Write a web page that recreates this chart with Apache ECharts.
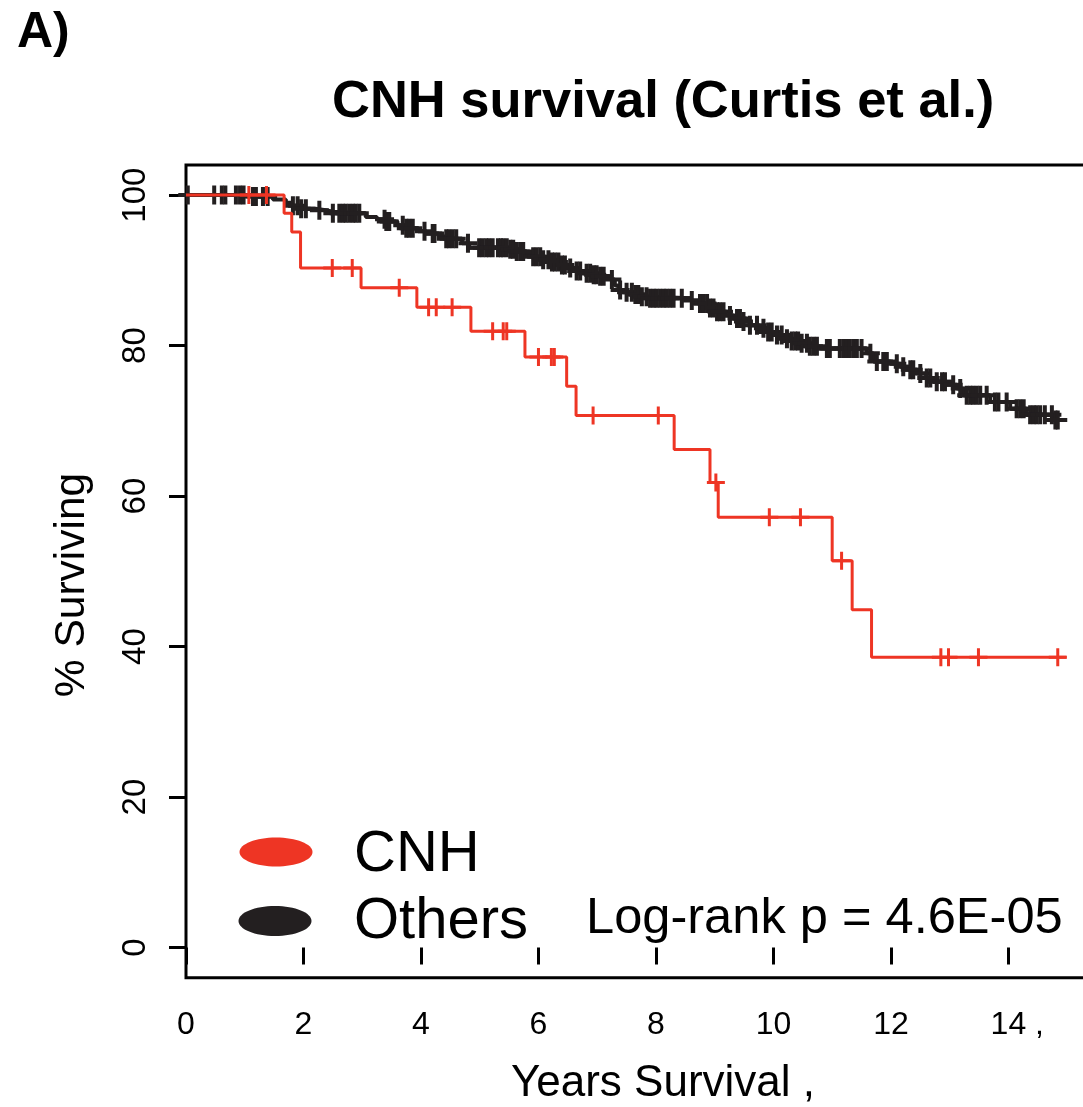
<!DOCTYPE html>
<html>
<head>
<meta charset="utf-8">
<script src="https://cdn.jsdelivr.net/npm/echarts@6/dist/echarts.min.js"></script>
<style>
html,body{margin:0;padding:0;background:#fff;}
#main{width:1083px;height:1107px;}
</style>
</head>
<body>
<div id="main"></div>
<script>
// ---- data ----
const xTickValues = [0, 2, 4, 6, 8, 10, 12, 14];
const xTickLabels = ['0', '2', '4', '6', '8', '10', '12', '  14 ,'];
const yTickValues = [0, 20, 40, 60, 80, 100];
const yTickLabels = ['0', '20', '40', '60', '80', '100'];

// Others: KM step times (years) and survival (%) after each step
const othersTimes = [0, 1.14, 1.48, 1.70, 1.80, 1.93, 2.20, 2.38, 2.50, 3.06, 3.25, 3.40, 3.60, 3.75, 3.95, 4.09, 4.30, 4.43, 4.70, 4.82,
  5.50, 5.63, 5.80, 5.91, 6.05, 6.20, 6.35, 6.48, 6.62, 6.76, 6.90, 7.05, 7.22, 7.30, 7.36, 7.50, 7.61, 7.75, 7.90, 8.60,
  8.75, 8.90, 9.03, 9.18, 9.32, 9.46, 9.60, 9.75, 9.89, 10.03, 10.17, 10.30, 10.45, 10.60, 10.75, 11.59, 11.70, 11.99, 12.16, 12.30,
  12.44, 12.60, 12.72, 12.95, 13.12, 13.23, 13.69, 14.03, 14.31, 14.77, 14.99];
const othersSurv = [100, 99.8, 99.4, 99.0, 98.6, 98.2, 98.0, 97.8, 97.6, 97.1, 96.8, 96.5, 96.0, 95.6, 95.2, 94.9, 94.5, 94.2, 93.6, 93.0,
  92.8, 92.5, 92.1, 91.8, 91.4, 91.1, 90.7, 90.3, 89.9, 89.6, 89.4, 89.2, 88.8, 88.0, 87.4, 87.1, 86.8, 86.5, 86.3, 86.0,
  85.6, 85.0, 84.5, 84.0, 83.6, 83.2, 82.7, 82.3, 81.8, 81.4, 80.9, 80.6, 80.3, 79.9, 79.6, 79.0, 77.9, 77.6, 77.2, 76.8,
  76.3, 75.7, 75.2, 74.8, 74.3, 73.4, 72.5, 71.6, 70.8, 70.1, 70.1];
// Others: censoring times (years)
const othersCensor = [0.03, 0.48, 0.61, 0.67, 0.85, 0.92, 0.98, 1.14, 1.19, 1.31, 1.39, 1.82, 1.90, 1.96, 2.04, 2.27, 2.50, 2.61, 2.67, 2.72,
  2.78, 2.84, 2.89, 2.95, 3.38, 3.41, 3.46, 3.69, 3.75, 3.80, 3.86, 4.06, 4.20, 4.23, 4.43, 4.48, 4.54, 4.60, 4.80, 4.99,
  5.05, 5.11, 5.16, 5.22, 5.31, 5.36, 5.40, 5.46, 5.52, 5.57, 5.63, 5.69, 5.74, 5.91, 5.97, 6.03, 6.08, 6.17, 6.23, 6.28,
  6.34, 6.40, 6.45, 6.54, 6.65, 6.71, 6.82, 6.88, 6.94, 6.99, 7.05, 7.11, 7.25, 7.39, 7.50, 7.59, 7.65, 7.70, 7.76, 7.84,
  7.90, 7.96, 8.01, 8.07, 8.13, 8.18, 8.24, 8.30, 8.44, 8.61, 8.75, 8.81, 8.87, 8.92, 8.98, 9.04, 9.09, 9.15, 9.26, 9.38,
  9.43, 9.49, 9.60, 9.72, 9.83, 9.91, 9.97, 10.06, 10.14, 10.23, 10.31, 10.37, 10.42, 10.48, 10.57, 10.62, 10.68, 10.74, 10.91, 10.96,
  11.13, 11.19, 11.25, 11.30, 11.36, 11.42, 11.50, 11.65, 11.76, 11.87, 11.93, 12.10, 12.21, 12.33, 12.38, 12.50, 12.61, 12.67, 12.78, 12.87,
  12.92, 13.06, 13.18, 13.29, 13.35, 13.40, 13.46, 13.52, 13.63, 13.77, 13.83, 13.97, 14.14, 14.20, 14.26, 14.37, 14.43, 14.48, 14.54, 14.62,
  14.74, 14.80, 14.84];

// CNH: KM step times and survival
const cnhTimes = [0, 1.67, 1.80, 1.95, 2.98, 3.93, 4.85, 5.77, 6.48, 6.64, 8.31, 8.92, 9.06, 11.00, 11.34, 11.67, 14.99];
const cnhSurv  = [100, 97.6, 95.1, 90.3, 87.7, 85.1, 81.9, 78.5, 74.6, 70.7, 66.2, 61.8, 57.2, 51.4, 44.9, 38.6, 38.6];
const cnhCensor = [1.07, 1.37, 2.49, 2.83, 3.63, 4.13, 4.26, 4.53, 5.22, 5.40, 5.46, 6.00, 6.22, 6.27, 6.93, 8.04, 9.02, 9.93, 10.46, 11.16,
  12.85, 12.98, 13.49, 14.84];

const seriesNames = ['CNH', 'Others'];
const pValueText = 'Log-rank p = 4.6E-05';

// ---- helpers ----
function stepData(times, surv) { return times.map((t, i) => [t, surv[i]]); }
function survAt(times, surv, t) {
  let s = surv[0];
  for (let i = 0; i < times.length; i++) { if (times[i] <= t) s = surv[i]; else break; }
  return s;
}
function censorData(ct, times, surv) { return ct.map(t => [t, survAt(times, surv, t)]); }

const RED = '#EE3524';
const BLK = '#231F20';
const FONT = '"Liberation Sans", Arial, Helvetica, sans-serif';
const PLUS = 'path://M10,0L10,20M0,10L20,10';

const chart = echarts.init(document.getElementById('main'), null, {renderer: 'canvas'});
chart.setOption({
  animation: false,
  backgroundColor: '#ffffff',
  title: {
    text: 'CNH survival (Curtis et al.)',
    left: 332, top: 76, padding: 0,
    textStyle: {fontFamily: FONT, fontWeight: 'bold', fontSize: 52.5, color: '#000'}
  },
  grid: {
    left: 186, top: 165, width: 954, height: 812.7,
    outerBoundsMode: 'none', containLabel: false,
    show: true, borderColor: '#000', borderWidth: 3, backgroundColor: 'transparent'
  },
  xAxis: {
    type: 'value', min: 0, max: 16.24,
    name: 'Years Survival ,', nameLocation: 'middle', nameGap: 84,
    nameTextStyle: {fontFamily: FONT, fontSize: 44, color: '#000'},
    axisLine: {show: false},
    splitLine: {show: false},
    axisTick: {show: true, length: 17, lineStyle: {color: '#000', width: 3}, customValues: xTickValues},
    axisLabel: {
      customValues: xTickValues, margin: 31, hideOverlap: false,
      fontFamily: FONT, fontSize: 32, color: '#000',
      formatter: v => { const i = xTickValues.indexOf(v); return i >= 0 ? xTickLabels[i] : ''; }
    }
  },
  yAxis: {
    type: 'value', min: -4, max: 104,
    axisLine: {show: false},
    splitLine: {show: false},
    axisTick: {show: true, length: 17, lineStyle: {color: '#000', width: 3}, customValues: yTickValues},
    axisLabel: {
      customValues: yTickValues, margin: 34, rotate: 90,
      fontFamily: FONT, fontSize: 33, color: '#000',
      formatter: v => { const i = yTickValues.indexOf(v); return i >= 0 ? yTickLabels[i] : ''; }
    }
  },
  graphic: [
    {type: 'text', left: 17, top: 8, style: {text: 'A)', font: 'bold 50px ' + FONT, fill: '#000'}},
    {type: 'text', x: 72, y: 585, rotation: Math.PI / 2,
      style: {text: '% Surviving', font: '42.5px ' + FONT, fill: '#000', textAlign: 'center', textVerticalAlign: 'middle'}},
    {type: 'ellipse', shape: {cx: 276, cy: 852, rx: 36.5, ry: 14.5}, style: {fill: RED}, z: 10},
    {type: 'ellipse', shape: {cx: 275, cy: 921, rx: 36.5, ry: 15}, style: {fill: BLK}, z: 10},
    {type: 'text', x: 354, y: 855, style: {text: seriesNames[0], font: '58px ' + FONT, fill: '#000', textVerticalAlign: 'middle'}, z: 10},
    {type: 'text', x: 354, y: 922, style: {text: seriesNames[1], font: '58px ' + FONT, fill: '#000', textVerticalAlign: 'middle'}, z: 10},
    {type: 'text', x: 586, y: 919, style: {text: pValueText, font: '50.6px ' + FONT, fill: '#000', textVerticalAlign: 'middle'}, z: 10}
  ],
  series: [
    {
      name: seriesNames[1], type: 'line', step: 'end', showSymbol: false, symbol: 'none',
      data: stepData(othersTimes, othersSurv),
      lineStyle: {color: BLK, width: 4}, z: 2
    },
    {
      name: seriesNames[1] + ' censored', type: 'scatter', symbol: PLUS, symbolSize: 19,
      data: censorData(othersCensor, othersTimes, othersSurv),
      itemStyle: {color: 'none', borderColor: BLK, borderWidth: 4, opacity: 1}, z: 3
    },
    {
      name: seriesNames[0], type: 'line', step: 'end', showSymbol: false, symbol: 'none',
      data: stepData(cnhTimes, cnhSurv),
      lineStyle: {color: RED, width: 3}, z: 4
    },
    {
      name: seriesNames[0] + ' censored', type: 'scatter', symbol: PLUS, symbolSize: 18,
      data: censorData(cnhCensor, cnhTimes, cnhSurv),
      itemStyle: {color: 'none', borderColor: RED, borderWidth: 3, opacity: 1}, z: 5
    }
  ]
});
</script>
</body>
</html>
